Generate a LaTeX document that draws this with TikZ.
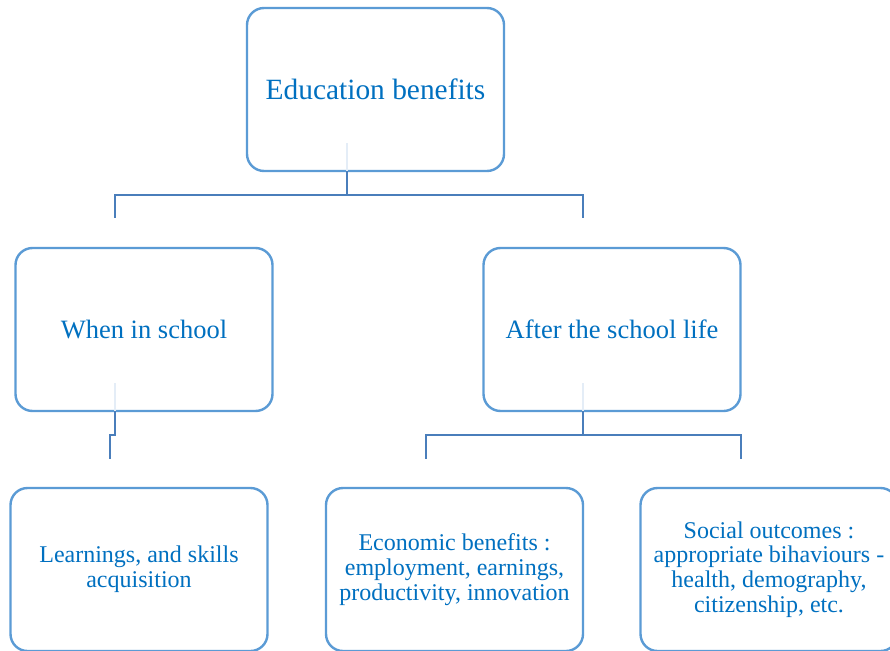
\documentclass[tikz,border=0pt]{standalone}
\usepackage{fontspec}
\setmainfont{Liberation Serif}
\usepackage{tikz}
\definecolor{Frame}{HTML}{5B9BD5}
\definecolor{Ink}{HTML}{0070C0}
\definecolor{Wire}{HTML}{4A7EBB}
\definecolor{Ghost}{HTML}{E4EDF7}

\begin{document}
\begin{tikzpicture}[
  x=1pt,y=-1pt,
  benefitbox/.style={draw=Frame,fill=white,line width=2.4pt,rounded corners=17pt,minimum width=257pt,minimum height=163pt,align=center,text=Ink,inner sep=0pt},
  tree/.style={draw=Wire,line width=2.4pt},
  ghostline/.style={draw=Ghost,line width=2.4pt}
]
\useasboundingbox (0,0) rectangle (890,650);
\clip (0,0) rectangle (890,650);
% three levels of boxes
\node[benefitbox,font=\fontsize{29.4}{33}\selectfont] (top) at (375.5,89.5) {Education benefits};
\node[benefitbox,font=\fontsize{26.5}{30}\selectfont] (school) at (144,329.5) {When in school};
\node[benefitbox,font=\fontsize{26.5}{30}\selectfont] (after) at (612,329.5) {After the school life};
\node[benefitbox,font=\fontsize{24}{24.7}\selectfont] (learn) at (139,569.5) {Learnings, and skills\\acquisition};
\node[benefitbox,font=\fontsize{24}{24.7}\selectfont] (econ) at (454.5,569.5) {Economic benefits :\\employment, earnings,\\productivity, innovation};
\node[benefitbox,font=\fontsize{24}{24.7}\selectfont] (social) at (769,569.5) {Social outcomes :\\appropriate bihaviours -\\health, demography,\\citizenship, etc.};
% branch points
\coordinate (topfoot) at (347,171);
\coordinate (schoolfoot) at (115,411);
\coordinate (afterfoot) at (583,411);
\coordinate (leftend) at (115,218);
\coordinate (rightend) at (583,218);
\coordinate (learnend) at (110,459);
\coordinate (econend) at (426,459);
\coordinate (socialend) at (741,459);
% faint stubs inside the boxes
\draw[ghostline] (347,143) -- (topfoot);
\draw[ghostline] (115,383) -- (schoolfoot);
\draw[ghostline] (583,383) -- (afterfoot);
% connectors
\draw[tree] (topfoot) -- ++(0,24) -| (leftend);
\draw[tree] (topfoot) ++(0,24) -| (rightend);
\draw[tree] (schoolfoot) -- ++(0,24) -| (learnend);
\draw[tree] (afterfoot) -- ++(0,24) -| (econend);
\draw[tree] (afterfoot) ++(0,24) -| (socialend);
\end{tikzpicture}
\end{document}
